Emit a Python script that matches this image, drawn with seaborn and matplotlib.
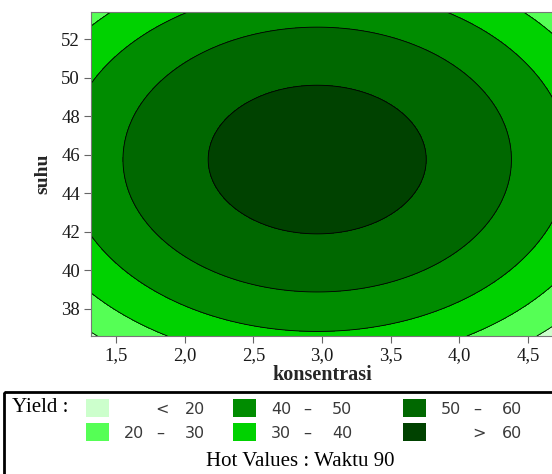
import matplotlib.pyplot as plt
import numpy as np
import seaborn as sns
from matplotlib.patches import Rectangle
from matplotlib.ticker import FuncFormatter

sns.set_theme(style="white")
plt.rcParams["font.family"] = ["Liberation Serif", "DejaVu Serif"]

# fitted response surface: Yield vs konsentrasi and suhu (hold value Waktu 90)
peak_yield = 64.6
center_konsentrasi = 2.965
center_suhu = 45.75
curv_konsentrasi = 7.30
curv_suhu = 0.309

konsentrasi_range = [1.318, 4.682]
suhu_range = [36.59, 53.41]

levels = [0, 20, 30, 40, 50, 60, 100]
level_colors = ["#ccffcc", "#55ff55", "#00d200", "#008c00", "#006800", "#004200"]
x_ticks = [1.5, 2.0, 2.5, 3.0, 3.5, 4.0, 4.5]
y_ticks = [38, 40, 42, 44, 46, 48, 50, 52]

# legend entries in Minitab's order: (level index, low text, high text)
legend_items = [
    (0, "", "< 20"), (1, "20", "30"),
    (3, "40", "50"), (2, "30", "40"),
    (4, "50", "60"), (5, "", "> 60"),
]


def yield_surface(x, y):
    return (peak_yield
            - curv_konsentrasi * (x - center_konsentrasi) ** 2
            - curv_suhu * (y - center_suhu) ** 2)


W, H = 552, 474
fig = plt.figure(figsize=(W / 100, H / 100), dpi=100)
ax = fig.add_axes([91 / W, 1 - 336 / H, 462 / W, 324 / H])

xs = np.linspace(*konsentrasi_range, 400)
ys = np.linspace(*suhu_range, 400)
X, Y = np.meshgrid(xs, ys)
Z = yield_surface(X, Y)

ax.contourf(X, Y, Z, levels=levels, colors=level_colors)
ax.contour(X, Y, Z, levels=levels[1:-1], colors="black", linewidths=0.6)
ax.set_xlim(konsentrasi_range)
ax.set_ylim(suhu_range)

ax.set_xticks(x_ticks)
ax.set_yticks(y_ticks)
ax.xaxis.set_major_formatter(FuncFormatter(lambda v, p: f"{v:.1f}".replace(".", ",")))
ax.tick_params(axis="both", which="both", direction="out", length=5, width=0.8,
               color="#666666", labelsize=13.5, labelcolor="#1a1a1a",
               bottom=True, left=True, top=False, right=False, pad=3)
for s in ax.spines.values():
    s.set_color("#777777")
    s.set_linewidth(0.8)
ax.set_xlabel("konsentrasi", fontsize=14.5, fontweight="bold", labelpad=1)
ax.set_ylabel("suhu", fontsize=14, fontweight="bold", labelpad=7)

# legend panel drawn in pixel coordinates
lg = fig.add_axes([0, 0, 1, 1], zorder=5)
lg.set_xlim(0, W)
lg.set_ylim(H, 0)
lg.axis("off")
lg.add_patch(Rectangle((4, 392), 560, 100, fill=False, edgecolor="black", linewidth=2))
lg.text(12, 408, "Yield :", fontsize=15, va="center", ha="left", color="black")

swatch_x = [86, 86, 233, 233, 403, 403]
row_y = [408, 432, 408, 432, 408, 432]
for (idx, lo, hi), sx, ry in zip(legend_items, swatch_x, row_y):
    lg.add_patch(Rectangle((sx, ry - 9), 23, 18, facecolor=level_colors[idx], edgecolor="none"))
    kw = dict(fontsize=11.5, va="center", ha="left", color="#3a3a3a", family="DejaVu Sans")
    if lo:
        lg.text(sx + 38, ry + 1, lo, **kw)
        lg.text(sx + 70, ry + 1, "–", **kw)
        lg.text(sx + 99, ry + 1, hi, **kw)
    else:
        sign, num = hi.split()
        lg.text(sx + 69, ry + 1, sign, **kw)
        lg.text(sx + 99, ry + 1, num, **kw)

lg.text(300, 462, "Hot Values : Waktu 90", fontsize=15, va="center", ha="center", color="black")

fig.savefig("out.png", dpi=100)
